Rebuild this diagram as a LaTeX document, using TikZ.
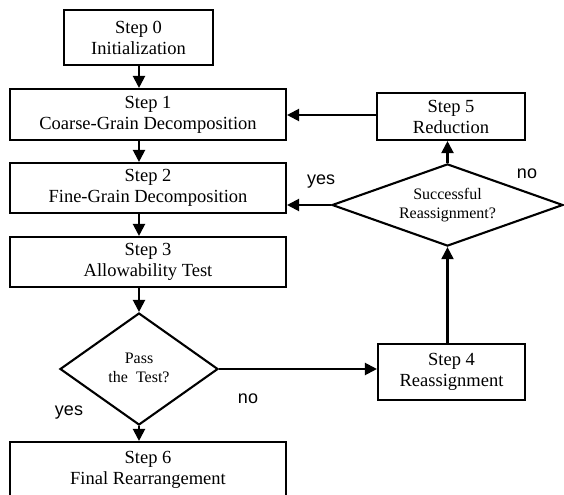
\documentclass[tikz,border=0pt]{standalone}
\usepackage{fontspec}
\setmainfont{Liberation Serif}
\newfontfamily\labelfont{Liberation Sans}
\usetikzlibrary{shapes.geometric,arrows.meta}

\tikzset{
  stepbox/.style={draw, line width=2.1bp, rectangle, inner sep=0pt,
    align=center, font=\fontsize{18.5bp}{21bp}\selectfont},
  decision/.style={draw, line width=2.1bp, diamond, shape aspect=2, inner sep=0pt,
    align=center, font=\fontsize{16bp}{19bp}\selectfont},
  flow/.style={line width=2.1bp, -{Triangle[length=12bp,width=12bp]}},
  answer/.style={font=\labelfont\fontsize{18bp}{20bp}\selectfont, inner sep=0pt}
}

\begin{document}
\begin{tikzpicture}[x=1bp, y=-1bp]
  \useasboundingbox (0,0) rectangle (564,495);
  \fill[white] (0,0) rectangle (564,495);
  \clip (0,0) rectangle (564,495);

  % main column
  \node[stepbox, minimum width=149bp, minimum height=55bp] (s0) at (138.5,37.5)
    {Step 0\\Initialization};
  \node[stepbox, minimum width=276bp, minimum height=51bp] (s1) at (148,114.5)
    {Step 1\\Coarse-Grain Decomposition};
  \node[stepbox, minimum width=276bp, minimum height=50bp] (s2) at (148,188)
    {Step 2\\Fine-Grain Decomposition};
  \node[stepbox, minimum width=276bp, minimum height=50bp] (s3) at (148,262)
    {Step 3\\Allowability Test};
  \node[decision, minimum width=158bp, minimum height=112bp] (pass) at (139,369)
    {\raisebox{4bp}{\begin{tabular}{@{}c@{}}Pass\\the\ \ Test?\end{tabular}}};
  \node[stepbox, minimum width=276bp, minimum height=56bp] (s6) at (148,470)
    {Step 6\\Final Rearrangement};

  % right column
  \node[stepbox, minimum width=147bp, minimum height=56bp] (s4) at (451.5,372)
    {Step 4\\Reassignment};
  \node[decision, minimum width=231bp, minimum height=76bp] (succ) at (447.5,205)
    {Successful\\Reassignment?};
  \node[stepbox, minimum width=148bp, minimum height=47bp] (s5) at (451,116.5)
    {Step 5\\Reduction};

  % connectors
  \draw[flow] (s0.south -| pass.north) -- (s1.north -| pass.north);
  \draw[flow] (s1.south -| pass.north) -- (s2.north -| pass.north);
  \draw[flow] (s2.south -| pass.north) -- (s3.north -| pass.north);
  \draw[flow] (s3.south -| pass.north) -- (pass.north);
  \draw[flow] (pass.south) -- (s6.north -| pass.south);
  \draw[flow] (pass.east) -- (pass.east -| s4.west);
  \draw[flow] (s4.north -| succ.south) -- (succ.south);
  \draw[flow] (succ.north) -- (s5.south -| succ.north);
  \draw[flow] ([yshift=1.5bp]s5.west) -- ([yshift=1.5bp]s5.west -| s1.east);
  \draw[flow] (succ.west) -- (succ.west -| s2.east);

  % branch labels
  \node[answer] (yes1) at (321,182) {yes};
  \node[answer] (no1) at (527,174) {no};
  \node[answer] (no2) at (248,399) {no};
  \node[answer] (yes2) at (69,413) {yes};
\end{tikzpicture}
\end{document}
